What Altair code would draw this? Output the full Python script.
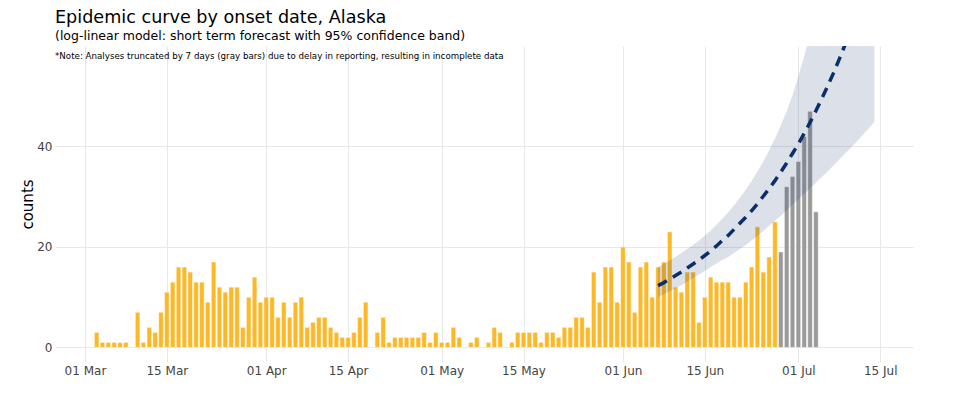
import altair as alt
import pandas as pd

# ---- data ----
first_day = "2020-03-03"
counts = [
    3, 1, 1, 1, 1, 1, 0, 7, 1, 4, 3, 7,                 # Mar 3 - Mar 14
    11, 13, 16, 16, 15, 13, 13, 9, 17, 12, 11, 12, 12,  # Mar 15 - Mar 27
    4, 10, 14, 9,                                        # Mar 28 - Mar 31
    10, 10, 6, 9, 6, 9, 10, 4, 5, 6, 6, 4, 3, 2,        # Apr 1 - Apr 14
    2, 3, 6, 9, 0, 3, 6, 1, 2, 2, 2, 2, 2, 3, 1, 3,     # Apr 15 - Apr 30
    1, 1, 4, 2, 0, 1, 2, 0, 1, 4, 3, 0, 1, 3,           # May 1 - May 14
    3, 3, 3, 1, 3, 3, 2, 4, 4, 6, 6, 4, 15, 9, 16, 16, 9,  # May 15 - May 31
    20, 17, 7, 16, 17, 10, 16, 17, 23, 12, 11, 15, 15, 5,  # Jun 1 - Jun 14
    10, 14, 13, 13, 13, 10, 10, 13, 16, 24, 15, 18, 25,    # Jun 15 - Jun 27
    19, 32, 34, 37, 42, 47, 27,                            # Jun 28 - Jul 4 (truncated)
]
truncated_from = "2020-06-28"

forecast_start = "2020-06-07"
fit = [12.3, 12.9, 13.6, 14.3, 15.0, 15.8, 16.6, 17.4, 18.3, 19.2,
       20.2, 21.3, 22.3, 23.5, 24.7, 25.9, 27.2, 28.6, 30.1, 31.6,
       33.2, 34.9, 36.7, 38.6, 40.5, 42.6, 44.8, 47.1, 49.5, 52.0,
       54.6, 57.4, 60.3, 63.4, 66.6, 70.0, 73.6, 77.4]
lower = [10.0, 10.6, 11.2, 11.8, 12.4, 13.1, 13.8, 14.5, 15.2, 16.0,
         16.7, 17.4, 18.0, 18.8, 19.6, 20.4, 21.3, 22.2, 23.2, 24.2,
         25.2, 26.2, 27.3, 28.4, 29.5, 30.6, 31.7, 32.8, 33.9, 35.0,
         36.2, 37.4, 38.6, 39.8, 41.0, 42.3, 43.6, 44.9]
upper = [16.0, 16.6, 17.3, 18.0, 18.8, 19.6, 20.4, 21.3, 22.3, 23.3,
         24.4, 25.6, 26.9, 28.3, 29.8, 31.4, 33.1, 35.0, 37.0, 39.2,
         41.6, 44.2, 47.0, 50.2, 54.0, 58.0, 62.5, 67.0, 72.0, 77.0,
         82.5, 88.5, 95.0, 102.0, 109.5, 117.5, 126.0, 135.0]

tick_labels = ["2020-03-01", "2020-03-15", "2020-04-01", "2020-04-15", "2020-05-01",
               "2020-05-15", "2020-06-01", "2020-06-15", "2020-07-01", "2020-07-15"]

title_text = "Epidemic curve by onset date, Alaska"
subtitle_text = "(log-linear model: short term forecast with 95% confidence band)"
note_text = ("*Note: Analyses truncated by 7 days (gray bars) due to delay in reporting, "
             "resulting in incomplete data")

# ---- tables ----
bar_dates = pd.date_range(first_day, periods=len(counts), freq="D")
bars_df = pd.DataFrame({
    "date": bar_dates.strftime("%Y-%m-%d"),
    "count": counts,
    "status": ["truncated" if d >= pd.Timestamp(truncated_from) else "complete" for d in bar_dates],
})
fc_dates = pd.date_range(forecast_start, periods=len(fit), freq="D")
fc_df = pd.DataFrame({
    "date": fc_dates.strftime("%Y-%m-%d"),
    "fit": fit, "lower": lower, "upper": upper,
})

FONT = "DejaVu Sans"
x_scale = alt.Scale(
    type="utc",
    domain=[alt.DateTime(year=2020, month=2, date=24, hours=21, utc=True),
            alt.DateTime(year=2020, month=7, date=20, hours=14, minutes=30, utc=True)],
    nice=False, padding=0,
)
y_scale = alt.Scale(domain=[-2.9, 60], nice=False, zero=False, padding=0)

tick_values = [
    alt.DateTime(year=int(t[:4]), month=int(t[5:7]), date=int(t[8:]), utc=True) for t in tick_labels
]

x_axis = alt.Axis(values=tick_values, labelExpr="utcFormat(datum.value, '%d %b')",
                  grid=True, gridColor="#e8e8e8",
                  domain=False, ticks=False, labelFontSize=12, labelColor="#444444", labelFont=FONT,
                  labelPadding=3, title=None)
y_axis = alt.Axis(values=[0, 20, 40], grid=True, gridColor="#e8e8e8", domain=False, ticks=False,
                  labelFontSize=12, labelColor="#444444", labelFont=FONT, labelPadding=3,
                  title="counts", titleFontSize=15, titleFont=FONT, titleFontWeight="normal",
                  titleColor="#000000", titlePadding=1)


def xenc():
    return alt.X("date:T", scale=x_scale, axis=x_axis, title=None)


bars = alt.Chart(bars_df).transform_filter(alt.datum.count > 0).mark_bar(
    size=4.6, stroke="#ffffff", strokeWidth=0.9, strokeOpacity=0.55
).encode(
    x=xenc(),
    y=alt.Y("count:Q", scale=y_scale, axis=y_axis, title="counts"),
    color=alt.Color("status:N", scale=alt.Scale(domain=["complete", "truncated"],
                                                range=["#FDB827", "#9A9A9A"]), legend=None),
)

band = alt.Chart(fc_df).mark_area(color="#0B2F6B", opacity=0.15, clip=True).encode(
    x=xenc(),
    y=alt.Y("lower:Q", scale=y_scale, axis=y_axis, title="counts"),
    y2="upper:Q",
)

line = alt.Chart(fc_df).mark_line(color="#0B2F6B", strokeWidth=3.5, strokeDash=[10, 7], clip=True).encode(
    x=xenc(),
    y=alt.Y("fit:Q", scale=y_scale, axis=y_axis, title="counts"),
)

note = alt.Chart(pd.DataFrame({"t": [note_text]})).mark_text(
    align="left", baseline="alphabetic", font=FONT, fontSize=8.7, color="#000000"
).encode(x=alt.value(0), y=alt.value(12.5), text="t:N")

chart = alt.layer(bars, band, line, note).properties(
    width=858, height=316,
    background="white",
    autosize=alt.AutoSizeParams(type="none"),
    padding={"left": 55, "top": 46, "right": 62, "bottom": 34},
    title=alt.TitleParams(
        text=title_text, subtitle=subtitle_text, anchor="start", frame="group",
        font=FONT, fontSize=17.6, fontWeight="normal", color="#000000",
        subtitleFont=FONT, subtitleFontSize=12.5, subtitleColor="#000000", subtitlePadding=3,
        offset=4,
    ),
).configure_view(stroke=None)

chart.save("out.html", embed_options={"renderer": "svg", "actions": False})
